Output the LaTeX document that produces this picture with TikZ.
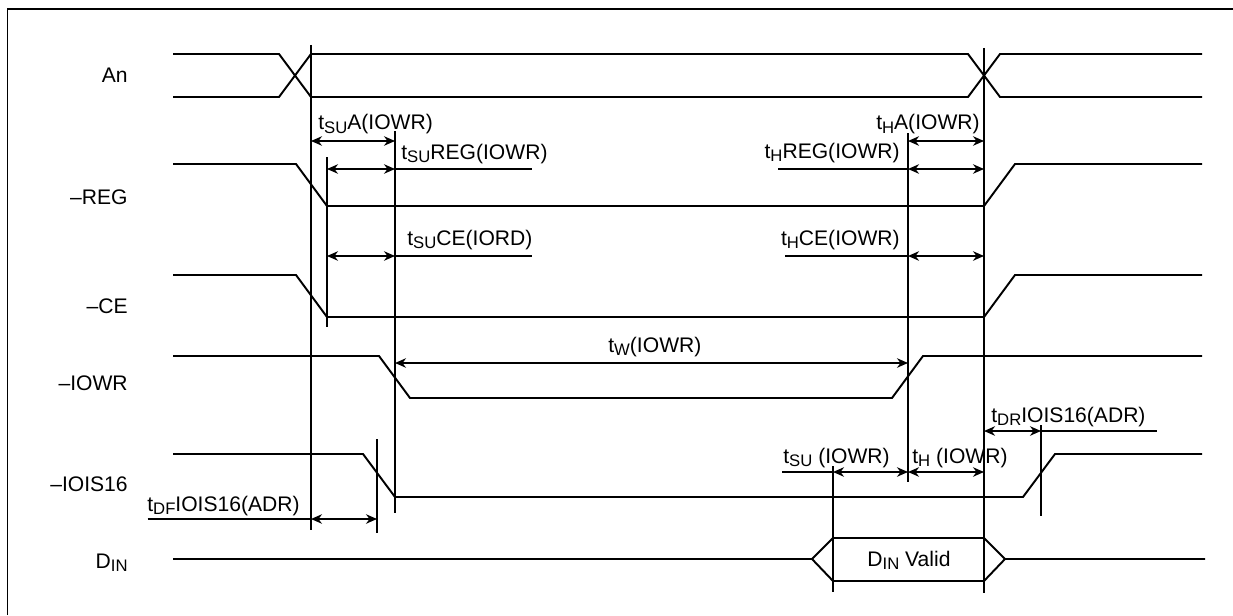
\documentclass[tikz,border=0pt]{standalone}
\usepackage{fontspec}
\setmainfont{Liberation Sans}
\usepackage{tikz}
\usetikzlibrary{arrows.meta}
\newcommand\lo[1]{\raisebox{-0.35ex}{\fontsize{9.5}{10}\selectfont #1}}

\begin{document}
\begin{tikzpicture}[x=0.02cm,y=-0.02cm,
		sig/.style = {line width=1.1pt},
		tick/.style = {line width=0.75pt},
		span/.style = {line width=0.8pt,{Stealth[length=2.2mm,width=1.9mm,inset=0.7mm]}-{Stealth[length=2.2mm,width=1.9mm,inset=0.7mm]}},
		lbl/.style = {inner sep=0pt,font=\fontsize{12}{14}\selectfont}]
			\useasboundingbox (0,0) rectangle (1233,615);
			\draw[line width=1pt] (7.5,615) -- (7.5,9) -- (1233,9);
			% signal names
			\node[lbl,anchor=base east] at (128,83) (An) {An};
			\node[lbl,anchor=base east] at (128,204) (REG) {--REG};
			\node[lbl,anchor=base east] at (128,313) (CE) {--CE};
			\node[lbl,anchor=base east] at (128,390) (IOWR) {--IOWR};
			\node[lbl,anchor=base east] at (128,491) (IOIS) {--IOIS16};
			\node[lbl,anchor=base east] at (128,568) (DIN) {D\lo{IN}};
			% waveforms
			\draw[sig] (173,54) -- (279,54) -- (311,97) -- (968,97) -- (1000,54) -- (1202,54);
			\draw[sig] (173,97) -- (279,97) -- (311,54) -- (968,54) -- (1000,97) -- (1202,97);
			\draw[sig] (173,164) -- (296,164) -- (327,206) -- (984,206) -- (1015,164) -- (1202,164);
			\draw[sig] (173,275) -- (296,275) -- (327,317) -- (984,317) -- (1015,275) -- (1202,275);
			\draw[sig] (173,356) -- (379,356) -- (410,398) -- (892,398) -- (923,356) -- (1202,356);
			\draw[sig] (173,454) -- (363,454) -- (395,497) -- (1023,497) -- (1055,454) -- (1202,454);
			\draw[sig] (173,559) -- (812,559) -- (833,538) -- (984,538) -- (1005,559) -- (1205,559);
			\draw[sig] (812,559) -- (833,581) -- (984,581) -- (1005,559);
			% timing marks
			\draw[tick] (311,45) -- (311,530);
			\draw[tick] (327,157) -- (327,327);
			\draw[tick] (395,131) -- (395,513);
			\draw[tick] (377,439) -- (377,533);
			\draw[tick] (908,133) -- (908,482);
			\draw[tick] (984,48) -- (984,593);
			\draw[tick] (1041,425) -- (1041,516);
			\draw[tick] (833,466) -- (833,592);
			% arrow ends
			\coordinate (a1) at (311,141);   \coordinate (a2) at (395,141);
			\coordinate (r1) at (327,169);   \coordinate (r2) at (395,169);  \coordinate (r3) at (532,169);
			\coordinate (c1) at (327,256);   \coordinate (c2) at (395,256);  \coordinate (c3) at (532,256);
			\coordinate (ha1) at (908,141);  \coordinate (ha2) at (984,141);
			\coordinate (hr0) at (778,169);  \coordinate (hr1) at (908,169);  \coordinate (hr2) at (984,169);
			\coordinate (hc0) at (785,256);  \coordinate (hc1) at (908,256);  \coordinate (hc2) at (984,256);
			\coordinate (w1) at (395,363);   \coordinate (w2) at (908,363);
			\coordinate (f0) at (147.5,519); \coordinate (f1) at (311,519);   \coordinate (f2) at (377,519);
			\coordinate (d1) at (984,431);   \coordinate (d2) at (1041,431);  \coordinate (d3) at (1157,431);
			\coordinate (s0) at (782,472);   \coordinate (s1) at (833,472);   \coordinate (s2) at (908,472);
			\coordinate (s3) at (984,472);
			\draw[span] (a1) -- (a2);
			\draw[span] (r1) -- (r2);
			\draw[tick] (r2) -- (r3);
			\draw[span] (c1) -- (c2);
			\draw[tick] (c2) -- (c3);
			\draw[span] (ha1) -- (ha2);
			\draw[tick] (hr0) -- (hr1);
			\draw[span] (hr1) -- (hr2);
			\draw[tick] (hc0) -- (hc1);
			\draw[span] (hc1) -- (hc2);
			\draw[span] (w1) -- (w2);
			\draw[tick] (f0) -- (f1);
			\draw[span] (f1) -- (f2);
			\draw[span] (d1) -- (d2);
			\draw[tick] (d2) -- (d3);
			\draw[tick] (s0) -- (s1);
			\draw[span] (s1) -- (s2);
			\draw[span] (s2) -- (s3);
			% timing labels
			\node[lbl,anchor=base west] at (318,130) (tsuA) {t\lo{SU}A(IOWR)};
			\node[lbl,anchor=base west] at (401,159) (tsuREG) {t\lo{SU}REG(IOWR)};
			\node[lbl,anchor=base west] at (407,245) (tsuCE) {t\lo{SU}CE(IORD)};
			\node[lbl,anchor=base east] at (980,130) (thA) {t\lo{H}A(IOWR)};
			\node[lbl,anchor=base east] at (900,158) (thREG) {t\lo{H}REG(IOWR)};
			\node[lbl,anchor=base east] at (900,245) (thCE) {t\lo{H}CE(IOWR)};
			\node[lbl,anchor=base west] at (608,352) (tw) {t\lo{W}(IOWR)};
			\node[lbl,anchor=base west] at (991,422) (tdr) {t\lo{DR}IOIS16(ADR)};
			\node[lbl,anchor=base west] at (783,463) (tsu) {t\lo{SU} (IOWR)};
			\node[lbl,anchor=base west] at (912,463) (th) {t\lo{H} (IOWR)};
			\node[lbl,anchor=base west] at (147,511) (tdf) {t\lo{DF}IOIS16(ADR)};
			\node[lbl,anchor=base] at (909,566) (valid) {D\lo{IN} Valid};
		\end{tikzpicture}
\end{document}
